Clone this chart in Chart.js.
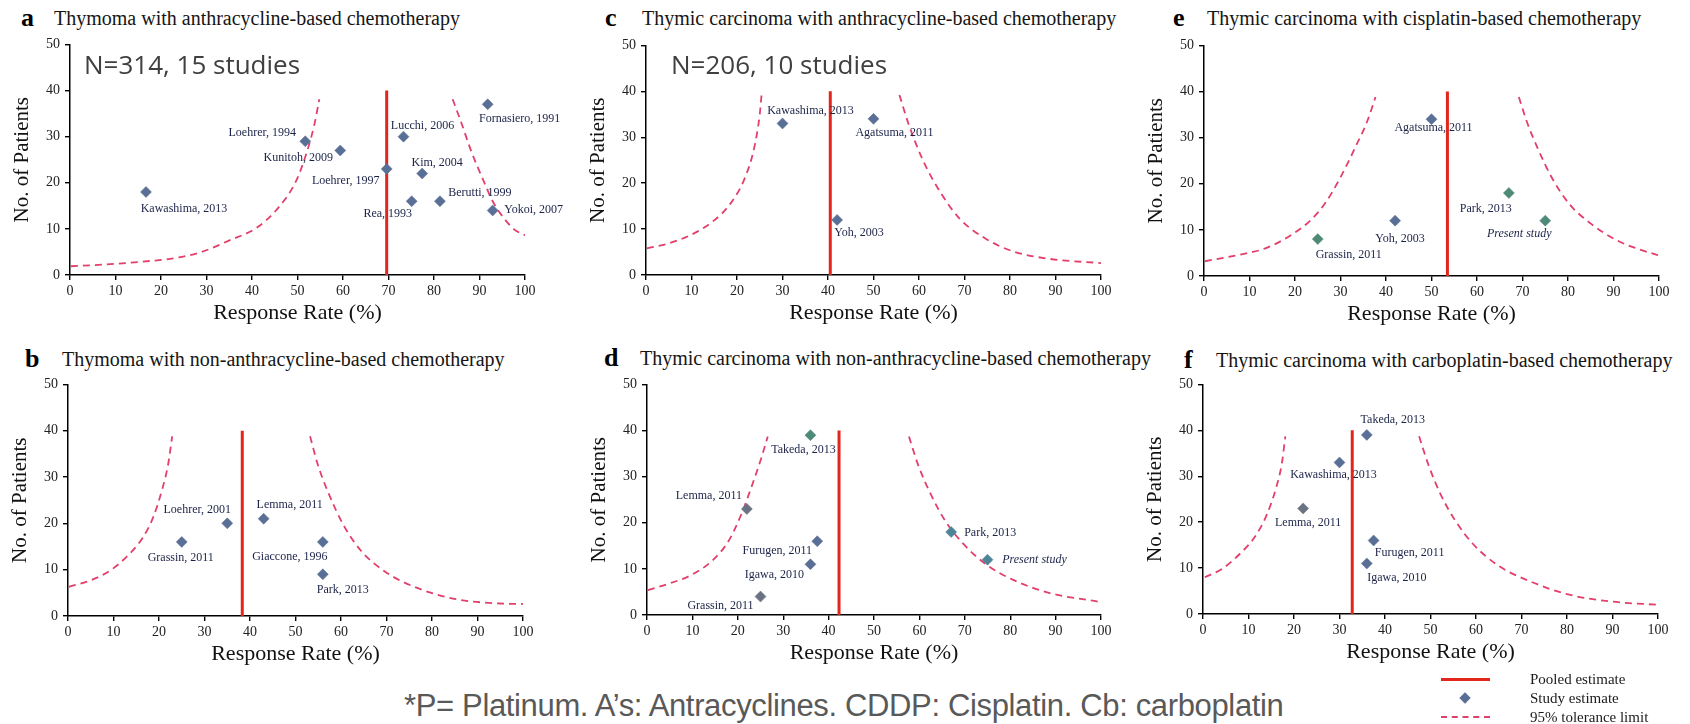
<!DOCTYPE html>
<html>
<head>
<meta charset="utf-8">
<title>Funnel plots - thymic tumours</title>
<script src="https://cdn.jsdelivr.net/npm/chart.js@4.4.1/dist/chart.umd.min.js"></script>
<style>
  body { margin: 0; width: 1690px; height: 724px; position: relative; overflow: hidden; background: #fff;
         font-family: "Liberation Serif", "Times New Roman", serif; color: #111; }
  canvas { position: absolute; }
  .txt { position: absolute; white-space: nowrap; line-height: 1; transform: translateY(-50%); }
  .ptitle { font-size: 20px; color: #151515; }
  .pletter { font-size: 26px; font-weight: bold; color: #000; }
  .note { font-family: "Open Sans", sans-serif; font-size: 26px; color: #404040; }
  .footer { font-family: "Liberation Sans Narrow", "Liberation Sans", sans-serif; font-size: 31px; color: #595959; letter-spacing: -0.35px; }
  .leg { font-size: 15px; color: #1a1a1a; }
  .leg-line { position: absolute; height: 0; }
  .leg-diamond { position: absolute; width: 8px; height: 8px; background: #5a6f96; transform: translate(-50%, -50%) rotate(45deg); }
</style>
</head>
<body>

<!-- panel headings -->
<span class="txt pletter" style="left:21px;top:18px">a</span>
<span class="txt ptitle" style="left:54px;top:18px">Thymoma with anthracycline-based chemotherapy</span>
<span class="txt pletter" style="left:605px;top:18px">c</span>
<span class="txt ptitle" style="left:642px;top:18px">Thymic carcinoma with anthracycline-based chemotherapy</span>
<span class="txt pletter" style="left:1173px;top:18px">e</span>
<span class="txt ptitle" style="left:1207px;top:18px">Thymic carcinoma with cisplatin-based chemotherapy</span>
<span class="txt pletter" style="left:25px;top:359px">b</span>
<span class="txt ptitle" style="left:62px;top:359px">Thymoma with non-anthracycline-based chemotherapy</span>
<span class="txt pletter" style="left:604px;top:358px">d</span>
<span class="txt ptitle" style="left:640px;top:358px">Thymic carcinoma with non-anthracycline-based chemotherapy</span>
<span class="txt pletter" style="left:1184px;top:360px">f</span>
<span class="txt ptitle" style="left:1216px;top:360px">Thymic carcinoma with carboplatin-based chemotherapy</span>

<canvas id="chart-a"></canvas>
<canvas id="chart-b"></canvas>
<canvas id="chart-c"></canvas>
<canvas id="chart-d"></canvas>
<canvas id="chart-e"></canvas>
<canvas id="chart-f"></canvas>

<span class="txt note" style="left:84px;top:64px">N=314, 15 studies</span>
<span class="txt note" style="left:671px;top:64px">N=206, 10 studies</span>

<span class="txt footer" style="left:404px;top:705px">*P= Platinum. A’s: Antracyclines. CDDP: Cisplatin. Cb: carboplatin</span>

<!-- legend -->
<div class="leg-line" style="left:1441px;top:678px;width:49px;border-top:3px solid #e3261b"></div>
<div class="leg-diamond" style="left:1465px;top:698px"></div>
<div class="leg-line" style="left:1441px;top:716px;width:49px;border-top:2px dashed #e23f6a"></div>
<span class="txt leg" style="left:1530px;top:679px">Pooled estimate</span>
<span class="txt leg" style="left:1530px;top:698px">Study estimate</span>
<span class="txt leg" style="left:1530px;top:717px">95% tolerance limit</span>

<script>
// a: thymoma, anthracycline-based
const aStudies  = ['Kawashima, 2013', 'Loehrer, 1994', 'Kunitoh, 2009', 'Loehrer, 1997', 'Lucchi, 2006', 'Kim, 2004', 'Rea, 1993', 'Berutti, 1999', 'Fornasiero, 1991', 'Yokoi, 2007'];
const aRate     = [16.7, 51.7, 59.4, 69.6, 73.3, 77.4, 75.1, 81.3, 91.8, 92.9];
const aPatients = [18, 29, 27, 23, 30, 22, 16, 16, 37, 14];
const aPooled   = 69.6;
const aLowRate  = [0.2, 8.1, 16, 23.9, 29.5, 34.8, 41.1, 45.8, 49.7, 52.1, 53.7, 54.8];
const aLowN     = [1.9, 2.3, 2.9, 3.8, 5.2, 7.4, 10.3, 14.6, 20.4, 26.8, 32.6, 38.1];
const aHighRate = [84.1, 85.9, 88.2, 90.6, 92.9, 95.3, 97.6, 100];
const aHighN    = [38.1, 33.3, 26.8, 21.1, 16.0, 12.4, 9.9, 8.6];

// b: thymoma, non-anthracycline-based
const bStudies  = ['Grassin, 2011', 'Loehrer, 2001', 'Lemma, 2011', 'Giaccone, 1996', 'Park, 2013'];
const bRate     = [25, 35, 43, 56, 56];
const bPatients = [16, 20, 21, 16, 9];
const bPooled   = 38.3;
const bLowRate  = [0.2, 4.7, 9.4, 13.3, 16.5, 18.8, 20.8, 22.0, 22.9];
const bLowN     = [6.3, 7.6, 9.9, 13.2, 17.0, 21.5, 27.7, 32.7, 38.8];
const bHighRate = [53.2, 54.9, 57.3, 60.4, 64.3, 69.8, 76.9, 85.5, 94.9, 100];
const bHighN    = [38.8, 32.7, 26.4, 19.9, 14.2, 9.5, 6.0, 3.6, 2.7, 2.6];

// c: thymic carcinoma, anthracycline-based
const cStudies  = ['Kawashima, 2013', 'Agatsuma, 2011', 'Yoh, 2003'];
const cRate     = [30, 50, 42];
const cPatients = [33, 34, 12];
const cPooled   = 40.5;
const cLowRate  = [0.2, 5.0, 9.8, 14.6, 18.6, 21.8, 23.8, 25.0, 25.4];
const cLowN     = [5.8, 6.9, 8.7, 11.6, 15.6, 21.3, 27.8, 35.0, 39.3];
const cHighRate = [55.7, 57.7, 60.9, 64.9, 68.9, 74.5, 80.8, 88.8, 100];
const cHighN    = [39.2, 32.9, 24.9, 17.7, 12.3, 8.0, 5.1, 3.5, 2.6];

// d: thymic carcinoma, non-anthracycline-based
const dStudies  = ['Takeda, 2013', 'Lemma, 2011', 'Furugen, 2011', 'Igawa, 2010', 'Grassin, 2011', 'Park, 2013', 'Present study'];
const dRate     = [36, 22, 37.5, 36, 25, 67, 75];
const dPatients = [39, 23, 16, 11, 4, 18, 12];
const dPooled   = 42.3;
const dLowRate  = [0.2, 4.8, 9.6, 14.4, 18.0, 20.8, 23.2, 25.2, 26.6];
const dLowN     = [5.4, 6.8, 8.6, 11.8, 16.1, 21.9, 28.3, 34.1, 38.7];
const dHighRate = [57.7, 59.7, 62.5, 65.7, 69.7, 74.5, 80.9, 88.9, 99.4];
const dHighN    = [38.7, 32.6, 26.2, 20.4, 15.4, 11.1, 7.5, 4.7, 2.9];

// e: thymic carcinoma, cisplatin-based
const eStudies  = ['Grassin, 2011', 'Yoh, 2003', 'Agatsuma, 2011', 'Park, 2013', 'Present study'];
const eRate     = [25, 42, 50, 67, 75];
const ePatients = [8, 12, 34, 18, 12];
const ePooled   = 53.5;
const eLowRate  = [0.2, 7.2, 13.5, 19.0, 23.0, 26.5, 30.0, 33.2, 35.9, 37.7];
const eLowN     = [3.2, 4.5, 6.0, 8.8, 11.7, 15.6, 21.4, 27.8, 33.6, 38.8];
const eHighRate = [69.2, 70.9, 73.3, 76.4, 80.3, 85.1, 90.6, 95.3, 99.8];
const eHighN    = [38.8, 33.6, 27.8, 21.4, 15.6, 11.3, 7.8, 5.9, 4.5];

// f: thymic carcinoma, carboplatin-based
const fStudies  = ['Takeda, 2013', 'Kawashima, 2013', 'Lemma, 2011', 'Furugen, 2011', 'Igawa, 2010'];
const fRate     = [36, 30, 22, 37.5, 36];
const fPatients = [39, 33, 23, 16, 11];
const fPooled   = 32.8;
const fLowRate  = [0.4, 4.3, 8.2, 11.4, 14.1, 16.1, 17.3, 18.1];
const fLowN     = [8.0, 9.9, 13.2, 16.8, 21.8, 27.6, 32.6, 38.7];
const fHighRate = [47.5, 49.5, 52.2, 55.4, 59.3, 64.8, 71.9, 80.5, 89.9, 100];
const fHighN    = [38.7, 32.6, 26.1, 20.4, 15.3, 10.6, 7.1, 4.2, 2.7, 2.0];

const xTicks = [0, 10, 20, 30, 40, 50, 60, 70, 80, 90, 100];
const yTicks = [0, 10, 20, 30, 40, 50];
const pooledTop = 40;

const SLATE = '#5a6f96', GREEN = '#4f8a78', TEAL = '#4e8497', GREY = '#6b7282';
const SERIF = '"Liberation Serif", "Times New Roman", serif';

const pts = (xs, ys) => xs.map((x, i) => ({ x, y: ys[i] }));

// plot area in page pixels [left, top, right, bottom], label offsets, marker colours
const panels = [
  { id: 'chart-a', area: [70, 43, 525, 275], studies: aStudies, rate: aRate, n: aPatients, pooled: aPooled,
    low: [aLowRate, aLowN], high: [aHighRate, aHighN],
    offsets: [[38, 17], [-43, -8], [-42, 7], [-41, 12], [19, -11], [15, -11], [-24, 13], [40, -8], [32, 14], [41, -1]],
    colors: Array(10).fill(SLATE) },
  { id: 'chart-b', area: [68, 383, 523, 616], studies: bStudies, rate: bRate, n: bPatients, pooled: bPooled,
    low: [bLowRate, bLowN], high: [bHighRate, bHighN],
    offsets: [[-1, 16], [-30, -14], [26, -14], [-33, 15], [20, 16]],
    colors: Array(5).fill(SLATE) },
  { id: 'chart-c', area: [646, 44, 1101, 275], studies: cStudies, rate: cRate, n: cPatients, pooled: cPooled,
    low: [cLowRate, cLowN], high: [cHighRate, cHighN],
    offsets: [[28, -13], [21, 14], [22, 13]],
    colors: [SLATE, SLATE, SLATE] },
  { id: 'chart-d', area: [647, 383, 1101, 615], studies: dStudies, rate: dRate, n: dPatients, pooled: dPooled,
    low: [dLowRate, dLowN], high: [dHighRate, dHighN],
    offsets: [[-7, 15], [-38, -13], [-40, 10], [-36, 11], [-40, 9], [39, 1], [47, 0]],
    colors: [GREEN, GREY, SLATE, SLATE, GREY, TEAL, TEAL] },
  { id: 'chart-e', area: [1204, 44, 1659, 276], studies: eStudies, rate: eRate, n: ePatients, pooled: ePooled,
    low: [eLowRate, eLowN], high: [eHighRate, eHighN],
    offsets: [[31, 16], [5, 18], [2, 9], [-23, 16], [-26, 13]],
    colors: [GREEN, SLATE, SLATE, GREEN, GREEN] },
  { id: 'chart-f', area: [1203, 383, 1658, 614], studies: fStudies, rate: fRate, n: fPatients, pooled: fPooled,
    low: [fLowRate, fLowN], high: [fHighRate, fHighN],
    offsets: [[26, -15], [-6, 12], [5, 14], [36, 12], [30, 14]],
    colors: [SLATE, SLATE, GREY, SLATE, SLATE] }
];

const AXIS_W = 70, AXIS_H = 52, PAD_TOP = 12, PAD_RIGHT = 75;

// study names written next to each diamond
const studyLabels = {
  id: 'studyLabels',
  afterDatasetsDraw(chart, args, opts) {
    const meta = chart.getDatasetMeta(0);
    const ctx = chart.ctx;
    ctx.save();
    ctx.fillStyle = '#1b2247';
    ctx.textAlign = 'center';
    ctx.textBaseline = 'middle';
    meta.data.forEach((el, i) => {
      const name = opts.names[i];
      const [dx, dy] = opts.offsets[i];
      ctx.font = (name === 'Present study' ? 'italic ' : '') + '12px ' + SERIF;
      ctx.fillText(name, el.x + dx, el.y + dy);
    });
    ctx.restore();
  }
};

function curve(rate, n) {
  return {
    data: pts(rate, n), showLine: true, pointRadius: 0,
    borderColor: '#e23f6a', borderWidth: 1.8, borderDash: [7, 5],
    cubicInterpolationMode: 'monotone'
  };
}

function axis(ticks, max, title, isX) {
  return {
    type: 'linear', min: 0, max,
    afterBuildTicks: s => { s.ticks = ticks.map(v => ({ value: v })); },
    afterFit: s => { if (isX) s.height = AXIS_H; else s.width = AXIS_W; },
    grid: { drawOnChartArea: false, drawTicks: true, tickLength: 5, color: '#000', lineWidth: 1.4 },
    border: { display: true, color: '#000', width: 1.5 },
    ticks: { font: { family: SERIF, size: 14 }, color: '#222', padding: isX ? 3 : 5, maxRotation: 0, autoSkip: false },
    title: { display: true, text: title, color: '#111', font: { family: SERIF, size: isX ? 22 : 21 },
             padding: isX ? { top: 0, bottom: 1 } : { top: 10, bottom: 0 } }
  };
}

panels.forEach(p => {
  const [l, t, r, b] = p.area;
  const cv = document.getElementById(p.id);
  cv.width = (r - l) + AXIS_W + PAD_RIGHT;
  cv.height = (b - t) + PAD_TOP + AXIS_H;
  cv.style.left = (l - AXIS_W) + 'px';
  cv.style.top = (t - PAD_TOP) + 'px';

  new Chart(cv, {
    type: 'scatter',
    data: {
      datasets: [
        { data: pts(p.rate, p.n), pointStyle: 'rectRot', pointRadius: 5.5,
          backgroundColor: p.colors, borderColor: p.colors, borderWidth: 0.5 },
        { data: [{ x: p.pooled, y: 0 }, { x: p.pooled, y: pooledTop }], showLine: true, pointRadius: 0,
          borderColor: '#e3261b', borderWidth: 3 },
        curve(p.low[0], p.low[1]),
        curve(p.high[0], p.high[1])
      ]
    },
    options: {
      responsive: false, animation: false, devicePixelRatio: 1,
      layout: { padding: { top: PAD_TOP, right: PAD_RIGHT, left: 0, bottom: 0 } },
      plugins: {
        legend: { display: false }, tooltip: { enabled: false },
        studyLabels: { names: p.studies, offsets: p.offsets }
      },
      scales: {
        x: axis(xTicks, 100, 'Response Rate (%)', true),
        y: axis(yTicks, 50, 'No. of Patients', false)
      }
    },
    plugins: [studyLabels]
  });
});
</script>
</body>
</html>
